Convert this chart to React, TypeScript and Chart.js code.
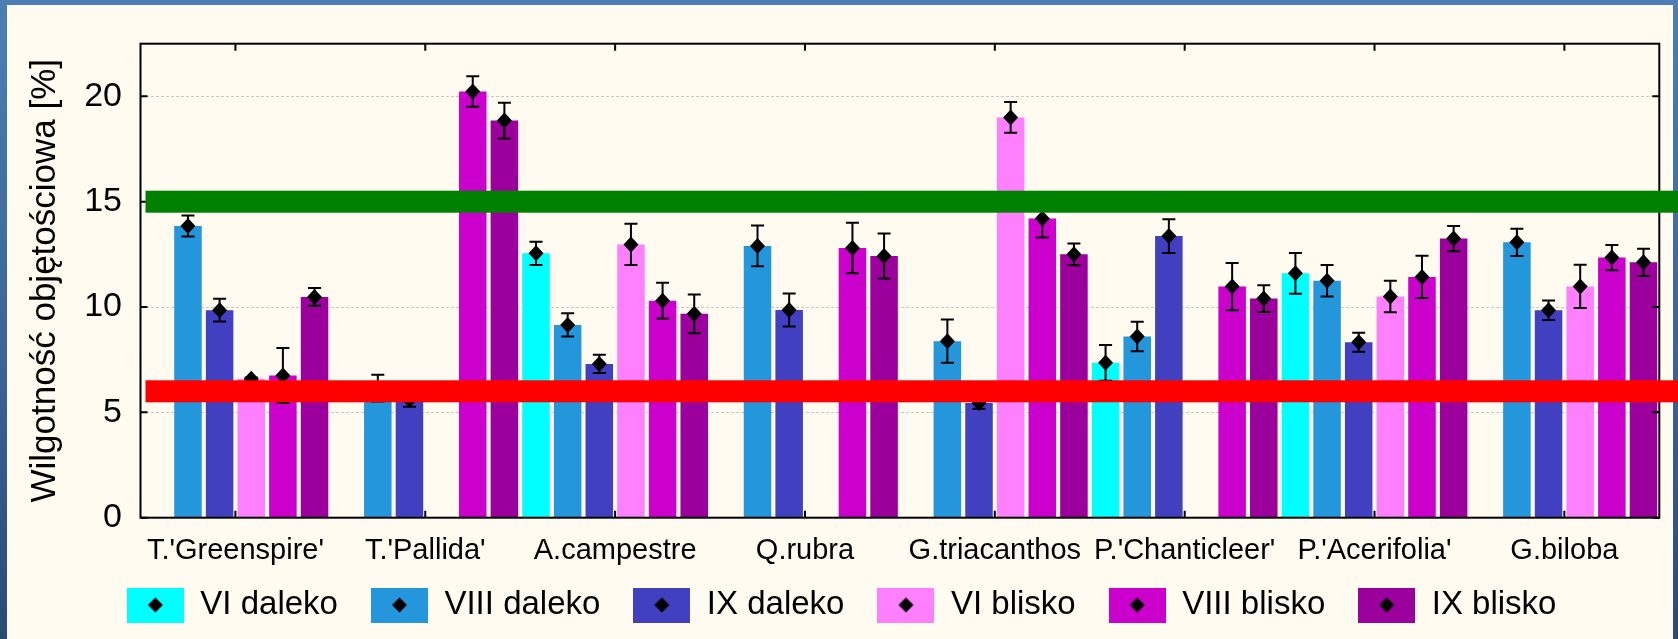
import React, { useEffect, useRef } from 'react';
import { Chart, registerables } from 'chart.js';

Chart.register(...registerables);

const categories = [
  "T.'Greenspire'",
  "T.'Pallida'",
  'A.campestre',
  'Q.rubra',
  'G.triacanthos',
  "P.'Chanticleer'",
  "P.'Acerifolia'",
  'G.biloba',
];

const seriesNames = ['VI daleko', 'VIII daleko', 'IX daleko', 'VI blisko', 'VIII blisko', 'IX blisko'];
const seriesColors = ['#00FFFF', '#2496DC', '#4040C0', '#FF80FF', '#CC00CC', '#9C009C'];

const viDaleko = [null, null, 12.55, null, null, 7.35, 11.6, null];
const viiiDaleko = [13.85, 6.15, 9.15, 12.9, 8.38, 8.6, 11.25, 13.07];
const ixDaleko = [9.85, 5.6, 7.3, 9.86, 5.45, 13.37, 8.33, 9.85];
const viBlisko = [6.6, null, 12.97, null, 19.0, null, 10.5, 10.98];
const viiiBlisko = [6.75, 20.23, 10.3, 12.8, 14.2, 10.97, 11.43, 12.35];
const ixBlisko = [10.48, 18.85, 9.68, 12.42, 12.5, 10.4, 13.25, 12.12];

const viDalekoErr = [null, null, 0.55, null, null, 0.85, 0.97, null];
const viiiDalekoErr = [0.5, 0.63, 0.55, 0.97, 1.03, 0.7, 0.75, 0.65];
const ixDalekoErr = [0.54, 0.33, 0.43, 0.78, 0.28, 0.8, 0.45, 0.46];
const viBliskoErr = [0.05, null, 0.98, null, 0.73, null, 0.75, 1.03];
const viiiBliskoErr = [1.3, 0.72, 0.85, 1.2, 0.9, 1.12, 1.0, 0.6];
const ixBliskoErr = [0.42, 0.85, 0.92, 1.07, 0.52, 0.63, 0.6, 0.65];

const seriesValues = [viDaleko, viiiDaleko, ixDaleko, viBlisko, viiiBlisko, ixBlisko];
const seriesErrors = [viDalekoErr, viiiDalekoErr, ixDalekoErr, viBliskoErr, viiiBliskoErr, ixBliskoErr];

const yTickValues = [0, 5, 10, 15, 20];
const yMin = 0;
const yMax = 22.5;
const yTitle = 'Wilgotność objętościowa [%]';

const thresholdValues = [15, 6];
const thresholdColors = ['#008000', '#FF0000'];

const FONT = "'Liberation Sans', Arial, sans-serif";
const X_AXIS_HEIGHT = 55;
const LEGEND_SHIFT = 17.2;

function makeLegendImage(color: string): HTMLCanvasElement {
  const c = document.createElement('canvas');
  c.width = 57;
  c.height = 35;
  const g = c.getContext('2d')!;
  g.fillStyle = color;
  g.fillRect(0, 0, 57, 35);
  g.fillStyle = '#000';
  g.beginPath();
  g.moveTo(28.5, 10);
  g.lineTo(36, 17.5);
  g.lineTo(28.5, 25);
  g.lineTo(21, 17.5);
  g.closePath();
  g.fill();
  return c;
}

const legendShiftPlugin = {
  id: 'legendShift',
  afterLayout(chart: any) {
    const l = chart.legend;
    if (l) {
      l.top -= LEGEND_SHIFT;
      l.bottom -= LEGEND_SHIFT;
    }
  },
};

const overlayPlugin = {
  id: 'overlay',
  afterDatasetsDraw(chart: any) {
    const { ctx, chartArea: a, scales } = chart;
    const x = scales.x;
    const y = scales.y;
    ctx.save();
    // error bars and mean markers
    chart.data.datasets.forEach((ds: any, di: number) => {
      const meta = chart.getDatasetMeta(di);
      meta.data.forEach((bar: any, i: number) => {
        const v = ds.data[i];
        const e = seriesErrors[di][i];
        if (v == null) return;
        const cx = bar.x;
        const yT = y.getPixelForValue(v + (e || 0));
        const yB = y.getPixelForValue(v - (e || 0));
        const yM = y.getPixelForValue(v);
        ctx.strokeStyle = '#000';
        ctx.lineWidth = 2;
        ctx.beginPath();
        ctx.moveTo(cx, yT);
        ctx.lineTo(cx, yB);
        ctx.moveTo(cx - 6.5, yT);
        ctx.lineTo(cx + 6.5, yT);
        ctx.moveTo(cx - 6.5, yB);
        ctx.lineTo(cx + 6.5, yB);
        ctx.stroke();
        ctx.fillStyle = '#000';
        ctx.beginPath();
        ctx.moveTo(cx, yM - 8);
        ctx.lineTo(cx + 7.5, yM);
        ctx.lineTo(cx, yM + 8);
        ctx.lineTo(cx - 7.5, yM);
        ctx.closePath();
        ctx.fill();
      });
    });
    // frame with inward ticks
    ctx.strokeStyle = '#000';
    ctx.lineWidth = 2;
    ctx.strokeRect(a.left, a.top, a.right - a.left, a.bottom - a.top);
    ctx.beginPath();
    categories.forEach((_, i) => {
      const px = x.getPixelForValue(i);
      ctx.moveTo(px, a.bottom);
      ctx.lineTo(px, a.bottom - 7);
      ctx.moveTo(px, a.top);
      ctx.lineTo(px, a.top + 7);
    });
    yTickValues.forEach((v) => {
      const py = y.getPixelForValue(v);
      ctx.moveTo(a.left, py);
      ctx.lineTo(a.left + 7, py);
      ctx.moveTo(a.right, py);
      ctx.lineTo(a.right - 7, py);
    });
    ctx.stroke();
    // threshold bands
    thresholdValues.forEach((v, i) => {
      const py = y.getPixelForValue(v);
      ctx.fillStyle = thresholdColors[i];
      ctx.fillRect(a.left + 5, py - 11, chart.width - a.left - 5, 22);
    });
    ctx.restore();
  },
};

export default function App() {
  const ref = useRef<HTMLCanvasElement | null>(null);

  useEffect(() => {
    if (!ref.current) return;
    const legendImages = seriesColors.map(makeLegendImage);
    const chart = new Chart(ref.current, {
      type: 'bar',
      data: {
        labels: categories,
        datasets: seriesNames.map((name, i) => ({
          label: name,
          data: seriesValues[i],
          backgroundColor: seriesColors[i],
          borderWidth: 0,
          categoryPercentage: 1.0,
          barPercentage: 0.87,
        })),
      },
      options: {
        responsive: false,
        animation: false,
        devicePixelRatio: 1,
        layout: {
          padding: { left: 24, right: 18.7, top: 43.7, bottom: 639 - 43.7 - 474 - X_AXIS_HEIGHT - 76 },
        },
        plugins: {
          tooltip: { enabled: false },
          legend: {
            position: 'bottom',
            labels: {
              usePointStyle: true,
              pointStyleWidth: 57,
              padding: 33,
              color: '#000',
              font: { family: FONT, size: 33 },
              generateLabels: (ch: any) => {
                const items = Chart.defaults.plugins.legend.labels.generateLabels(ch);
                return items.map((it: any) => ({ ...it, pointStyle: legendImages[it.datasetIndex] }));
              },
            },
          },
        },
        scales: {
          x: {
            type: 'category',
            grid: { display: false, drawTicks: false },
            border: { display: false },
            ticks: {
              color: '#000',
              font: { family: FONT, size: 29 },
              padding: 16.3,
              maxRotation: 0,
              autoSkip: false,
            },
            afterFit: (s: any) => {
              s.height = X_AXIS_HEIGHT;
            },
          },
          y: {
            type: 'linear',
            min: yMin,
            max: yMax,
            afterBuildTicks: (s: any) => {
              s.ticks = yTickValues.map((v) => ({ value: v }));
            },
            grid: {
              drawTicks: false,
              color: (c: any) => (c.tick && c.tick.value === 0 ? 'rgba(0,0,0,0)' : '#c8c8c8'),
              lineWidth: 1,
            },
            border: { display: false, dash: [3, 2] },
            ticks: {
              color: '#000',
              font: { family: FONT, size: 34 },
              padding: 18.5,
            },
            title: {
              display: true,
              text: yTitle,
              color: '#000',
              font: { family: FONT, size: 35, weight: 'normal' },
              padding: { top: 0, bottom: 0 },
            },
            afterFit: (s: any) => {
              s.width = 116.5;
            },
          },
        },
      },
      plugins: [overlayPlugin, legendShiftPlugin],
    });
    return () => chart.destroy();
  }, []);

  return (
    <div
      style={{
        position: 'fixed',
        left: 0,
        top: 0,
        width: 1678,
        height: 639,
        background: 'linear-gradient(180deg, #4C7EB5 0%, #3E6799 50%, #2B4A76 100%)',
        overflow: 'hidden',
      }}
    >
      <div
        style={{
          position: 'absolute',
          left: 7,
          top: 5,
          width: 1666,
          height: 634,
          background: '#FFFBF0',
        }}
      />
      <canvas
        ref={ref}
        width={1678}
        height={639}
        style={{ position: 'absolute', left: 0, top: 0, width: 1678, height: 639 }}
      />
    </div>
  );
}
